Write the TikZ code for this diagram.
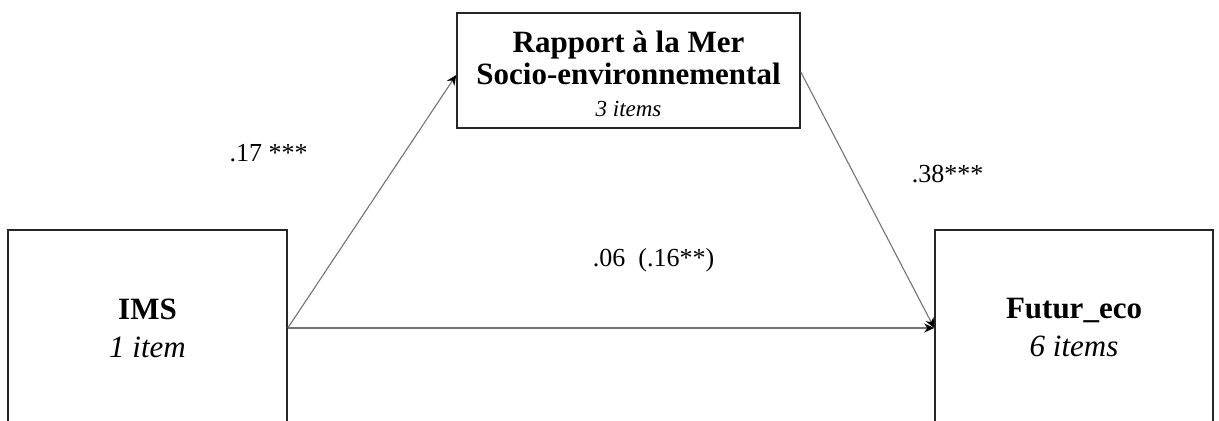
\documentclass[tikz,border=0pt]{standalone}
\usepackage{fontspec}
\setmainfont{Liberation Serif}
\usetikzlibrary{arrows.meta}

\begin{document}
\begin{tikzpicture}[x=0.5pt,y=0.5pt,>={Stealth[length=5pt,width=4.5pt,color=black]},
  var/.style={draw=black!85,line width=0.8pt,align=center,inner sep=0pt},
  coef/.style={font=\fontsize{13}{15}\selectfont,anchor=base},
  conn/.style={->,draw=black!55,line width=0.55pt}]
  \useasboundingbox (0,0) rectangle (1219,421);

  \node[var, minimum width=139.5pt, minimum height=98pt,
        font=\fontsize{15.5}{19}\selectfont] (ims) at (147.5,93)
        {\textbf{IMS}\\\textit{1 item}};
  \node[var, minimum width=139pt, minimum height=98pt,
        font=\fontsize{15.5}{19}\selectfont] (futur) at (1074,93)
        {\textbf{Futur\_eco}\\\textit{6 items}};
  \node[var, minimum width=171.5pt, minimum height=57.5pt,
        font=\fontsize{15.5}{16}\selectfont\bfseries] (rapport) at (628.5,350.5)
        {\rule{0pt}{14pt}Rapport à la Mer\\Socio-environnemental\\[0pt]{\fontsize{11.5}{13}\selectfont\mdseries\itshape 3 items}};

  \node[coef] (c17) at (268.5,259) {.17 ***};
  \node[coef] (c06) at (653.5,154) {.06\ \ (.16**)};
  \node[coef] (c38) at (947.5,238) {.38***};

  \path (ims.east) edge[conn] ([yshift=-2.25pt]rapport.west)
        ([yshift=-0.75pt]rapport.east) edge[conn] (futur.west)
        (ims.east) edge[conn] (futur.west);
\end{tikzpicture}
\end{document}
